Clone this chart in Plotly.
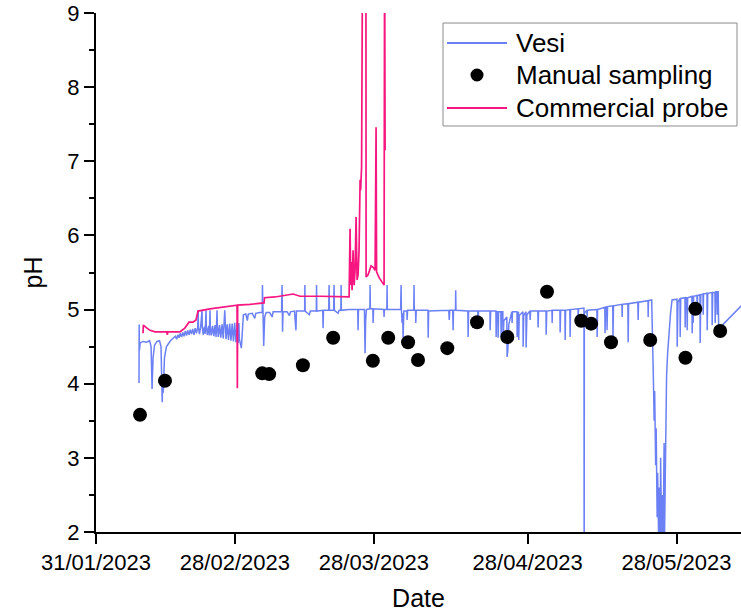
import pandas as pd
import plotly.graph_objects as go

START = pd.Timestamp("2023-01-31")

# Vesi sensor readings: (days since 31/01/2023, pH)
vesi_points = [
    (8.67, 4.01), (8.70, 4.80), (8.75, 4.45), (8.90, 4.55), (9.50, 4.57), (10.20, 4.56), (10.80, 4.58), (11.10, 4.50),
    (11.30, 3.93), (11.50, 4.35), (11.80, 4.52), (12.30, 4.57), (12.80, 4.58), (13.10, 4.50), (13.35, 3.75), (13.45, 4.05),
    (13.55, 3.88), (13.80, 4.35), (14.20, 4.50), (15.00, 4.58), (15.50, 4.61),
    (16.00, 4.64), (16.25, 4.60), (16.50, 4.66), (16.75, 4.62), (17.00, 4.68), (17.25, 4.63), (17.50, 4.69), (17.75, 4.64),
    (18.00, 4.71), (18.25, 4.65), (18.50, 4.72), (18.75, 4.66), (19.00, 4.73), (19.25, 4.67), (19.50, 4.74), (19.75, 4.66),
    (20.00, 4.75), (20.25, 4.68), (20.50, 4.76), (20.60, 4.99), (20.65, 4.76), (20.85, 4.67), (21.10, 4.77), (21.37, 4.99),
    (21.42, 4.77), (21.60, 4.66), (21.85, 4.77), (22.00, 4.67), (22.18, 4.99), (22.23, 4.77), (22.45, 4.66), (22.70, 4.78),
    (22.85, 4.65), (22.98, 4.99), (23.03, 4.78), (23.25, 4.65), (23.50, 4.78), (23.75, 4.64), (24.00, 4.79), (24.20, 4.63),
    (24.40, 4.99), (24.45, 4.79), (24.65, 4.63), (24.90, 4.79), (25.15, 4.62), (25.40, 4.80), (25.65, 4.61), (25.95, 4.99),
    (26.00, 4.80), (26.20, 4.60), (26.45, 4.80), (26.70, 4.59), (26.95, 4.81), (27.20, 4.58), (27.45, 4.81), (27.70, 4.57),
    (27.95, 4.82), (28.20, 4.56), (28.45, 4.82), (28.65, 4.55), (28.80, 4.82),
    (28.90, 4.60), (29.30, 4.48), (29.50, 4.70), (29.70, 4.93), (30.20, 4.94), (30.50, 4.85), (30.70, 4.94), (31.50, 4.95),
    (32.00, 4.88), (32.20, 4.95), (33.00, 4.96), (33.50, 4.96), (33.55, 5.33), (33.60, 4.96), (33.80, 4.51), (34.00, 4.90),
    (34.30, 4.96), (35.00, 4.96), (35.50, 4.90), (35.70, 4.97), (36.50, 4.97), (37.40, 4.97), (37.50, 5.33), (37.55, 4.97),
    (37.60, 4.70), (37.70, 4.97), (38.50, 4.97), (39.00, 4.92), (39.20, 4.97), (40.00, 4.98), (40.30, 4.72), (40.40, 4.98),
    (42.05, 4.98), (42.10, 5.33), (42.15, 4.98), (43.00, 4.93), (43.20, 4.98), (44.40, 4.98), (44.45, 5.33), (44.50, 4.98),
    (45.70, 4.99), (45.77, 4.75), (45.85, 4.99), (46.90, 4.99), (46.98, 5.33), (47.05, 4.99), (47.90, 4.99), (47.98, 5.33),
    (48.05, 4.99), (48.80, 4.95), (49.00, 4.99), (49.35, 4.99), (49.40, 5.33), (49.45, 4.99), (51.00, 5.00), (52.75, 5.00),
    (52.82, 4.72), (52.90, 5.00), (54.10, 5.00), (54.23, 4.41), (54.35, 4.85), (54.50, 5.00), (55.20, 5.01), (55.24, 5.33),
    (55.30, 5.01), (55.80, 5.01), (55.85, 4.82), (55.95, 5.01), (58.00, 5.00), (58.06, 4.90), (58.12, 5.00), (58.62, 5.00),
    (58.67, 5.33), (58.72, 5.00), (61.40, 5.00), (61.49, 5.33), (61.55, 5.00), (61.70, 4.82), (61.80, 4.95), (61.90, 4.63),
    (62.05, 4.98), (62.65, 4.98), (62.70, 4.86), (62.80, 4.99), (64.05, 4.99), (64.10, 5.33), (64.15, 4.99), (64.40, 4.99),
    (64.45, 4.82), (64.55, 4.99), (66.90, 4.99), (66.95, 4.62), (67.05, 4.98), (71.10, 4.99), (71.20, 4.86), (71.30, 4.99),
    (71.90, 4.99), (71.98, 4.72), (72.05, 4.99), (72.45, 4.99), (72.50, 5.26), (72.55, 4.99), (74.95, 4.98), (75.00, 4.63),
    (75.10, 4.98), (76.95, 4.98), (77.00, 4.79), (77.10, 4.98), (79.40, 4.98), (79.44, 4.72), (79.55, 4.98), (80.60, 4.98),
    (80.65, 4.63), (80.75, 4.97), (81.00, 4.97), (81.05, 4.62), (81.15, 4.97), (81.60, 4.97), (81.65, 4.63), (81.75, 4.97),
    (82.00, 4.97), (82.06, 4.56), (82.20, 4.85), (82.80, 4.90), (82.86, 4.36), (83.00, 4.45), (83.20, 4.80), (83.80, 4.97),
    (83.87, 4.82), (83.95, 4.97), (84.85, 4.97), (84.88, 4.63), (84.95, 4.90), (85.15, 4.97), (85.20, 4.59), (85.30, 4.92),
    (86.05, 4.97), (86.09, 4.50), (86.20, 4.92), (86.65, 4.97), (86.69, 4.49), (86.85, 4.93), (87.45, 4.98), (87.50, 4.86),
    (87.60, 4.98), (89.05, 4.98), (89.11, 4.76), (89.20, 4.98), (90.70, 4.98), (90.73, 4.66), (90.85, 4.98), (91.90, 4.99),
    (91.94, 4.82), (92.00, 4.99), (93.50, 4.99), (93.55, 4.69), (93.65, 4.99), (94.50, 4.99), (94.56, 4.59), (94.65, 4.99),
    (95.50, 5.00), (95.56, 4.63), (95.65, 5.00), (97.15, 5.01), (97.18, 4.86), (97.25, 5.01), (98.35, 5.02), (98.39, 1.00),
    (98.43, 4.95), (98.95, 4.99), (98.99, 4.90), (99.05, 4.99), (100.95, 5.00), (101.00, 4.63), (101.10, 5.00), (102.55, 5.03),
    (102.60, 4.68), (102.70, 5.03), (102.95, 5.04), (103.00, 4.72), (103.10, 5.04), (104.15, 5.05), (104.20, 4.63), (104.30, 5.05),
    (106.00, 5.07), (106.05, 4.90), (106.10, 5.07), (107.20, 5.08), (107.26, 4.56), (107.35, 5.08), (109.20, 5.10), (109.27, 4.86),
    (109.35, 5.10), (111.25, 5.12), (111.29, 4.90), (111.35, 5.12), (112.00, 5.13), (112.10, 4.65), (112.30, 4.20), (112.50, 3.50),
    (112.60, 3.90), (112.80, 2.90), (112.90, 3.40), (113.10, 2.20), (113.20, 2.80), (113.40, 1.90), (113.50, 2.60), (113.70, 1.80),
    (113.80, 3.00), (114.00, 1.90), (114.10, 2.50), (114.30, 1.80), (114.50, 3.20), (114.60, 2.00), (114.80, 3.60), (115.00, 4.10),
    (115.20, 4.40), (115.50, 4.70), (115.80, 4.95), (116.10, 5.13), (116.70, 5.14), (117.10, 5.14), (117.14, 4.50), (117.30, 5.10),
    (117.70, 5.15), (117.74, 4.63), (117.85, 5.15), (118.70, 5.16), (118.75, 4.76), (118.85, 5.16), (119.10, 5.16), (119.15, 4.72),
    (119.25, 5.16), (120.10, 5.18), (120.16, 4.68), (120.25, 5.17), (120.32, 5.18), (120.36, 4.82), (120.45, 5.18), (121.12, 5.19),
    (121.17, 4.95), (121.25, 5.19), (121.72, 5.20), (121.77, 4.55), (121.90, 5.20), (122.33, 5.21), (122.38, 4.93), (122.45, 5.21),
    (123.14, 5.22), (123.19, 4.72), (123.30, 5.22), (124.15, 5.23), (124.19, 4.79), (124.30, 5.23), (124.75, 5.23), (124.80, 4.82),
    (124.90, 5.24), (125.15, 5.24), (125.20, 4.93), (125.30, 5.24), (125.40, 5.25), (125.50, 4.74), (130.20, 5.06),
]

# Manual sampling
manual_day = [8.87, 13.9, 33.5, 34.9, 41.7, 47.8, 55.8, 58.9, 62.9, 64.9, 70.8, 76.8, 82.9, 90.9, 97.8, 99.8, 103.8, 111.7, 118.8, 120.8, 125.8]
manual_ph = [3.58, 4.04, 4.14, 4.13, 4.25, 4.62, 4.31, 4.62, 4.56, 4.32, 4.48, 4.83, 4.63, 5.24, 4.85, 4.81, 4.56, 4.59, 4.35, 5.01, 4.71]

# Commercial probe
probe_day = [9.48, 9.54, 10.08, 10.89, 11.90, 14.20, 14.40, 14.45, 16.90, 17.90, 18.75, 19.55, 20.16, 20.56, 22.98, 25.00, 28.43, 28.49, 28.55,
             31.05, 33.87, 33.97, 36.09, 39.72, 41.13, 45.16, 51.01, 51.21, 51.35, 51.47, 51.61, 51.81, 52.02, 52.22, 52.42, 52.62, 52.82,
             53.02, 53.23, 53.33, 53.53, 53.73, 54.40, 54.44, 54.84, 55.44, 55.85, 56.25, 56.45, 56.55, 57.06, 57.66, 58.06, 58.17, 58.27]
probe_ph = [4.68, 4.79, 4.76, 4.72, 4.70, 4.70, 4.66, 4.70, 4.70, 4.75, 4.83, 4.83, 4.86, 4.98, 5.01, 5.03, 5.06, 3.94, 5.06,
            5.07, 5.09, 5.16, 5.17, 5.21, 5.18, 5.18, 5.17, 6.09, 5.33, 5.64, 5.26, 5.80, 5.33, 5.53, 6.25, 5.40, 5.47,
            5.80, 6.75, 6.61, 6.92, 10.0, 10.0, 5.44, 5.47, 5.59, 5.57, 5.53, 7.46, 5.51, 5.43, 5.36, 5.33, 10.0, 7.15]

series_names = ["Vesi", "Manual sampling", "Commercial probe"]
tick_dates = ["2023-01-31", "2023-02-28", "2023-03-28", "2023-04-28", "2023-05-28"]
tick_text = ["31/01/2023", "28/02/2023", "28/03/2023", "28/04/2023", "28/05/2023"]
x_end_day = 130

VESI_COLOR = "#6b80f5"
PROBE_COLOR = "#f7157f"


def to_dates(days):
    return [START + pd.to_timedelta(d, unit="D") for d in days]


vesi_day = [p[0] for p in vesi_points]
vesi_ph = [p[1] for p in vesi_points]

fig = go.Figure()
fig.add_trace(go.Scatter(x=to_dates(vesi_day), y=vesi_ph, mode="lines", name=series_names[0],
                         line=dict(color=VESI_COLOR, width=1.5), showlegend=False))
fig.add_trace(go.Scatter(x=to_dates(probe_day), y=probe_ph, mode="lines", name=series_names[2],
                         line=dict(color=PROBE_COLOR, width=1.7), showlegend=False))
fig.add_trace(go.Scatter(x=to_dates(manual_day), y=manual_ph, mode="markers", name=series_names[1],
                         marker=dict(color="black", size=14), showlegend=False))

# Legend box drawn in paper coordinates (as in the original figure)
shapes = [
    dict(type="rect", xref="paper", yref="paper", x0=0.538, x1=0.9938, y0=0.7823, y1=0.9807,
         line=dict(color="#8a8a8a", width=1), fillcolor="white", layer="above"),
    dict(type="line", xref="paper", yref="paper", x0=0.5442, x1=0.6372, y0=0.9422, y1=0.9422,
         line=dict(color=VESI_COLOR, width=2), layer="above"),
    dict(type="circle", xref="paper", yref="paper", x0=0.5907 - 0.0101, x1=0.5907 + 0.0101,
         y0=0.8805 - 0.0125, y1=0.8805 + 0.0125, line=dict(color="black", width=0),
         fillcolor="black", layer="above"),
    dict(type="line", xref="paper", yref="paper", x0=0.5442, x1=0.6372, y0=0.8170, y1=0.8170,
         line=dict(color=PROBE_COLOR, width=2), layer="above"),
]
legend_y = [0.9422, 0.8805, 0.8170]
annotations = [
    dict(text=name, xref="paper", yref="paper", x=0.6480, y=yy, xanchor="left", yanchor="middle",
         showarrow=False, font=dict(size=26, color="black"))
    for name, yy in zip(series_names, legend_y)
]

font_family = "Liberation Sans, Arial, sans-serif"
fig.update_layout(
    width=741, height=613,
    margin=dict(l=96, r=0, t=13, b=81),
    paper_bgcolor="white", plot_bgcolor="white",
    font=dict(family=font_family, size=22, color="black"),
    showlegend=False,
    shapes=shapes, annotations=annotations,
)
fig.update_xaxes(
    type="date", automargin=False,
    range=[START, START + pd.to_timedelta(x_end_day, unit="D")],
    tickvals=tick_dates, ticktext=tick_text,
    ticks="outside", ticklen=10, tickwidth=2, tickcolor="black",
    showline=True, linewidth=2, linecolor="black",
    showgrid=False, zeroline=False,
    title=dict(text="Date", font=dict(size=25), standoff=15),
)
fig.update_yaxes(
    range=[2, 9], tick0=2, dtick=1, automargin=False,
    ticks="outside", ticklen=10, tickwidth=2, tickcolor="black",
    minor=dict(dtick=0.5, ticks="outside", ticklen=5, tickwidth=2, tickcolor="black", showgrid=False),
    showline=True, linewidth=2, linecolor="black",
    showgrid=False, zeroline=False,
    title=dict(text="pH", font=dict(size=25), standoff=18),
)

fig.write_html("out.html", config={"displayModeBar": False},
               post_script="document.body.style.margin='0';")
